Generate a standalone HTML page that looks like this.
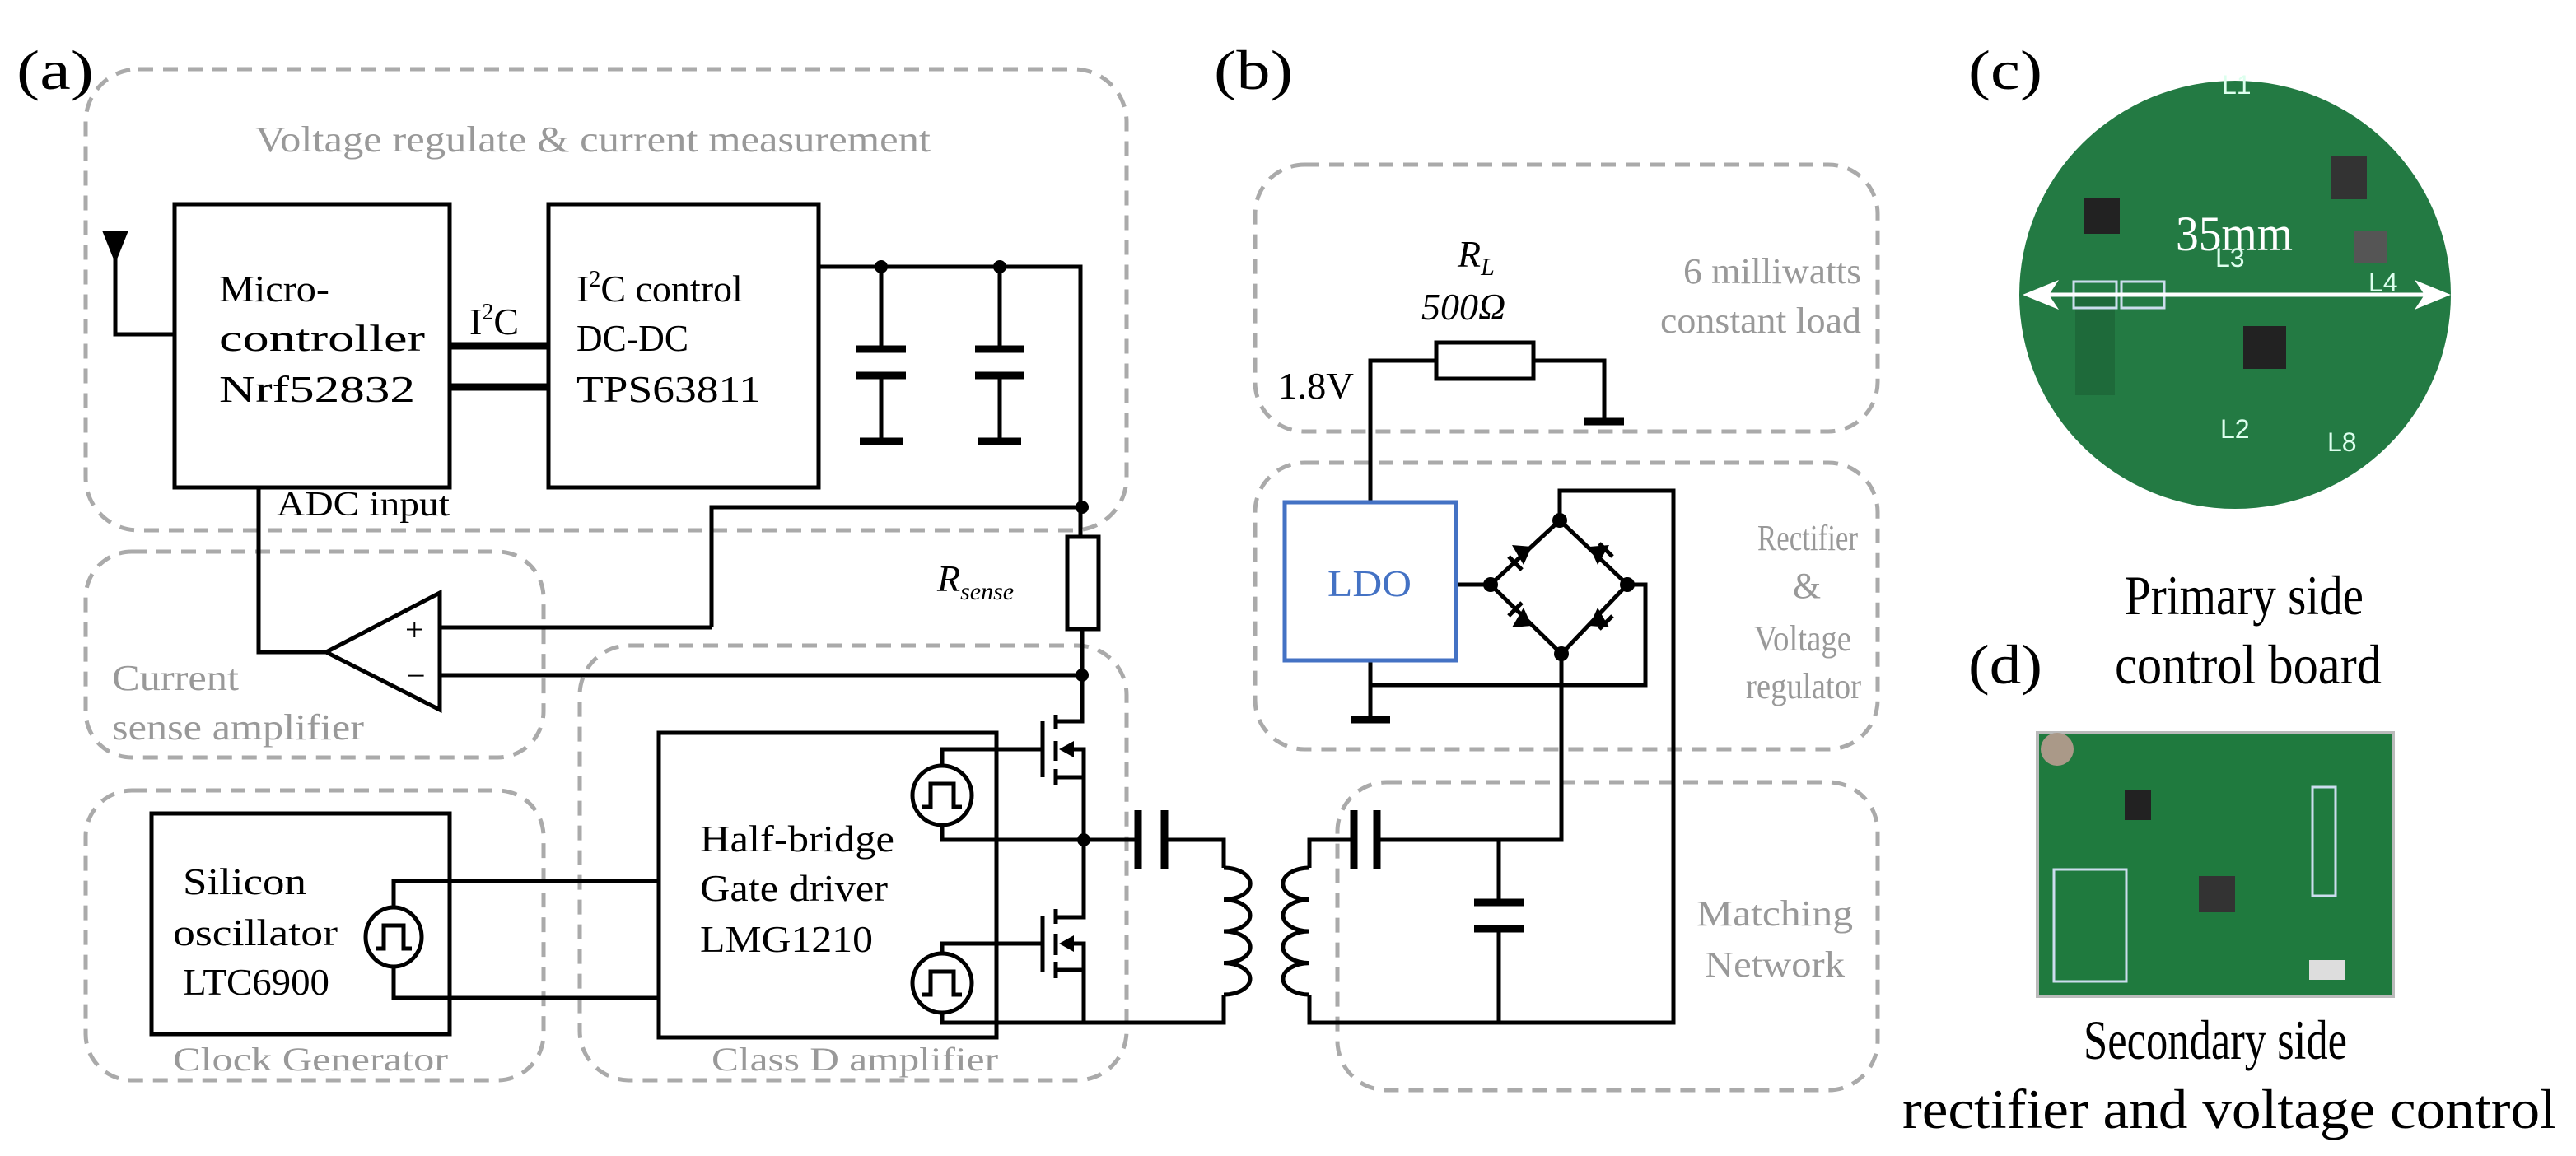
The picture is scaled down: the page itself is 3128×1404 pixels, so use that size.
<!DOCTYPE html>
<html><head><meta charset="utf-8"><style>
html,body{margin:0;padding:0;background:#fff;}
svg{display:block;}
svg text{font-family:"Liberation Serif","Times New Roman",Times,serif;}
</style></head><body>
<svg width="3128" height="1404" viewBox="0 0 1564 702" xmlns="http://www.w3.org/2000/svg" font-family="Liberation Serif, Times New Roman, serif">
<g fill="none" stroke="#aaa" stroke-width="2.5" stroke-dasharray="9 6">
<rect x="52" y="42" width="632" height="280" rx="32"/>
<rect x="52" y="335" width="278" height="125" rx="28"/>
<rect x="52" y="480" width="278" height="176" rx="28"/>
<rect x="352" y="392" width="332" height="264" rx="30"/>
<rect x="762" y="100" width="378" height="162" rx="30"/>
<rect x="762" y="281" width="378" height="174" rx="30"/>
<rect x="812" y="475" width="328" height="187" rx="30"/>
</g>
<g fill="#999" font-size="22">
<text x="155" y="92" textLength="410" lengthAdjust="spacingAndGlyphs">Voltage regulate &amp; current measurement</text>
<text x="68" y="419" textLength="77" lengthAdjust="spacingAndGlyphs">Current</text>
<text x="68" y="449" textLength="153" lengthAdjust="spacingAndGlyphs">sense amplifier</text>
<text x="105" y="650" font-size="20" textLength="167" lengthAdjust="spacingAndGlyphs">Clock Generator</text>
<text x="432" y="650" font-size="20" textLength="174" lengthAdjust="spacingAndGlyphs">Class D amplifier</text>
<text x="1022" y="172" textLength="108" lengthAdjust="spacingAndGlyphs">6 milliwatts</text>
<text x="1008" y="202" textLength="122" lengthAdjust="spacingAndGlyphs">constant load</text>
<text x="1067" y="334" textLength="61" lengthAdjust="spacingAndGlyphs">Rectifier</text>
<text x="1097" y="363" text-anchor="middle">&amp;</text>
<text x="1065" y="395" textLength="59" lengthAdjust="spacingAndGlyphs">Voltage</text>
<text x="1060" y="424" textLength="70" lengthAdjust="spacingAndGlyphs">regulator</text>
<text x="1030" y="562" textLength="95" lengthAdjust="spacingAndGlyphs">Matching</text>
<text x="1035" y="593" textLength="85" lengthAdjust="spacingAndGlyphs">Network</text>
</g>
<g fill="#000" font-size="34">
<text x="10" y="54" textLength="47" lengthAdjust="spacingAndGlyphs">(a)</text>
<text x="737" y="54" textLength="48" lengthAdjust="spacingAndGlyphs">(b)</text>
<text x="1195" y="54" textLength="45" lengthAdjust="spacingAndGlyphs">(c)</text>
<text x="1195" y="415" textLength="45" lengthAdjust="spacingAndGlyphs">(d)</text>
<text x="1290" y="373" textLength="145" lengthAdjust="spacingAndGlyphs">Primary side</text>
<text x="1284" y="415" textLength="162" lengthAdjust="spacingAndGlyphs">control board</text>
<text x="1265" y="643" textLength="160" lengthAdjust="spacingAndGlyphs">Secondary side</text>
<text x="1155" y="685" textLength="397" lengthAdjust="spacingAndGlyphs">rectifier and voltage control</text>
</g>
<g fill="none" stroke="#000" stroke-width="2.5">
<rect x="106" y="124" width="167" height="172"/>
<rect x="333" y="124" width="164" height="172"/>
<rect x="92" y="494" width="181" height="134"/>
<rect x="400" y="445" width="205" height="185"/>
<polyline points="70,155 70,203 106,203"/>
<polyline points="497,162 656,162 656,325"/>
<line x1="535" y1="162" x2="535" y2="212"/><line x1="535" y1="228" x2="535" y2="268"/>
<line x1="607" y1="162" x2="607" y2="212"/><line x1="607" y1="228" x2="607" y2="268"/>
<rect x="648" y="326" width="19" height="56"/>
<polyline points="657,382 657,438 641,438"/>
<polyline points="432,381 432,308 657,308"/>
<polyline points="267,381 432,381"/>
<polyline points="267,410 657,410"/>
<polygon points="198,396 267,360 267,431"/>
<polyline points="198,396 157,396 157,296"/>
<polyline points="239,551 239,535 400,535"/>
<polyline points="239,587 239,606 400,606"/>
<ellipse cx="239" cy="569" rx="17" ry="18"/>
<path d="M228 576 h5 v-14 h12 v14 h5"/>
<line x1="633" y1="438" x2="633" y2="472"/>
<line x1="641" y1="434" x2="641" y2="443"/><line x1="641" y1="450" x2="641" y2="462"/><line x1="641" y1="467" x2="641" y2="477"/>
<polyline points="641,472 658,472 658,455 648,455"/>
<line x1="658" y1="472" x2="658" y2="510"/>
<polyline points="633,455 572,455 572,465"/>
<circle cx="572" cy="483" r="18"/>
<path d="M560 490 h5 v-14 h14 v14 h5"/>
<polyline points="572,501 572,510 691,510"/>
<polyline points="658,510 658,557 641,557"/>
<line x1="633" y1="556" x2="633" y2="590"/>
<line x1="641" y1="552" x2="641" y2="561"/><line x1="641" y1="567" x2="641" y2="580"/><line x1="641" y1="584" x2="641" y2="594"/>
<polyline points="641,589 658,589 658,573 648,573"/>
<line x1="658" y1="589" x2="658" y2="621"/>
<polyline points="633,573 572,573 572,579"/>
<circle cx="572" cy="597" r="18"/>
<path d="M560 604 h5 v-14 h14 v14 h5"/>
<polyline points="572,615 572,621 743,621 743,604"/>
<polyline points="707,510 743,510 743,527"/>
<path d="M743 527 A16 9.6 0 1 1 743 546.3 A16 9.6 0 1 1 743 565.5 A16 9.6 0 1 1 743 584.8 A16 9.6 0 1 1 743 604"/>
<path d="M795 527 A16 9.6 0 1 0 795 546.3 A16 9.6 0 1 0 795 565.5 A16 9.6 0 1 0 795 584.8 A16 9.6 0 1 0 795 604"/>
<polyline points="795,527 795,510 822,510"/>
<polyline points="836,510 948,510 948,397"/>
<polyline points="795,604 795,621 1016,621 1016,298 947,298 947,316"/>
<line x1="910" y1="510" x2="910" y2="548"/><line x1="910" y1="564" x2="910" y2="621"/>
<polyline points="884,355 905,355"/>
<polygon points="905,355 947,316 988,355 948,397"/>
<polyline points="988,355 999,355 999,416 832,416"/>
<polyline points="832,401 832,437"/>
<polyline points="832,304 832,219 872,219"/>
<rect x="872" y="208" width="59" height="22"/>
<polyline points="931,219 974,219 974,256"/>
</g>
<g stroke="#000" stroke-width="4.5" fill="none">
<line x1="273" y1="210" x2="333" y2="210"/><line x1="273" y1="235" x2="333" y2="235"/>
<line x1="520" y1="212" x2="550" y2="212"/><line x1="520" y1="228" x2="550" y2="228"/><line x1="522" y1="268" x2="548" y2="268"/>
<line x1="592" y1="212" x2="622" y2="212"/><line x1="592" y1="228" x2="622" y2="228"/><line x1="594" y1="268" x2="620" y2="268"/>
<line x1="691" y1="492" x2="691" y2="528"/><line x1="707" y1="492" x2="707" y2="528"/>
<line x1="822" y1="492" x2="822" y2="528"/><line x1="836" y1="492" x2="836" y2="528"/>
<line x1="895" y1="548" x2="925" y2="548"/><line x1="895" y1="564" x2="925" y2="564"/>
<line x1="962" y1="256" x2="986" y2="256"/>
<line x1="820" y1="437" x2="844" y2="437"/>
</g>
<rect x="780" y="305" width="104" height="96" fill="none" stroke="#4472c4" stroke-width="2.5"/>
<text x="806" y="362" font-size="23" fill="#4472c4" textLength="51" lengthAdjust="spacingAndGlyphs">LDO</text>
<g fill="#000">
<polygon points="62,140 78,140 70,160"/>
<circle cx="535" cy="162" r="4"/><circle cx="607" cy="162" r="4"/>
<circle cx="657" cy="308" r="4"/><circle cx="657" cy="410" r="4"/><circle cx="658" cy="510" r="4"/>
<circle cx="905" cy="355" r="4.5"/><circle cx="947" cy="316" r="4.5"/><circle cx="988" cy="355" r="4.5"/><circle cx="948" cy="397" r="4.5"/>
<polygon points="643,455 652,450 652,460"/><polygon points="643,573 652,568 652,578"/>
<polygon points="930,332 918,331 925,343"/><polygon points="965,332 977,331 970,343"/>
<polygon points="930,380 918,381 925,369"/><polygon points="965,380 977,381 970,369"/>
</g>
<g stroke="#000" stroke-width="2.5">
<line x1="916" y1="338" x2="924" y2="346"/><line x1="971" y1="330" x2="979" y2="338"/>
<line x1="916" y1="374" x2="924" y2="366"/><line x1="971" y1="382" x2="979" y2="374"/>
</g>
<g fill="#000" font-size="23">
<text x="133" y="183" textLength="67" lengthAdjust="spacingAndGlyphs">Micro-</text>
<text x="133" y="213" textLength="125" lengthAdjust="spacingAndGlyphs">controller</text>
<text x="133" y="244" textLength="119" lengthAdjust="spacingAndGlyphs">Nrf52832</text>
<text x="350" y="183">I<tspan font-size="14" dy="-9">2</tspan><tspan dy="9">C control</tspan></text>
<text x="350" y="213" textLength="68" lengthAdjust="spacingAndGlyphs">DC-DC</text>
<text x="350" y="244" textLength="112" lengthAdjust="spacingAndGlyphs">TPS63811</text>
<text x="285" y="203">I<tspan font-size="14" dy="-9">2</tspan><tspan dy="9">C</tspan></text>
<text x="168" y="313" font-size="21" textLength="105" lengthAdjust="spacingAndGlyphs">ADC input</text>
<text x="569" y="359" font-style="italic">R<tspan font-size="15" dy="5">sense</tspan></text>
<text x="246" y="389" font-size="20">+</text>
<text x="247" y="417" font-size="20">−</text>
<text x="111" y="543" textLength="75" lengthAdjust="spacingAndGlyphs">Silicon</text>
<text x="105" y="574" textLength="100" lengthAdjust="spacingAndGlyphs">oscillator</text>
<text x="111" y="604" textLength="89" lengthAdjust="spacingAndGlyphs">LTC6900</text>
<text x="425" y="517" textLength="118" lengthAdjust="spacingAndGlyphs">Half-bridge</text>
<text x="425" y="547" textLength="114" lengthAdjust="spacingAndGlyphs">Gate driver</text>
<text x="425" y="578" textLength="105" lengthAdjust="spacingAndGlyphs">LMG1210</text>
<text x="776" y="242" textLength="46" lengthAdjust="spacingAndGlyphs">1.8V</text>
<text x="885" y="162" font-style="italic">R<tspan font-size="15" dy="5">L</tspan></text>
<text x="863" y="194" font-style="italic">500Ω</text>
</g>
<ellipse cx="1357" cy="179" rx="131" ry="130" fill="#237a43"/>
<rect x="1265" y="120" width="22" height="22" fill="#222"/>
<rect x="1362" y="198" width="26" height="26" fill="#222"/>
<rect x="1415" y="95" width="22" height="26" fill="#333"/>
<rect x="1429" y="140" width="20" height="20" fill="#555"/>
<rect x="1260" y="180" width="24" height="60" fill="#1e6a3a"/>
<rect x="1259" y="171" width="26" height="16" fill="none" stroke="#cde" stroke-width="1.5"/>
<rect x="1288" y="171" width="26" height="16" fill="none" stroke="#cde" stroke-width="1.5"/>
<text x="1321" y="152" fill="#fff" font-size="30" textLength="71" lengthAdjust="spacingAndGlyphs">35mm</text>
<line x1="1232" y1="179" x2="1484" y2="179" stroke="#fff" stroke-width="2.5"/>
<polygon points="1228,179 1250,170 1244,179 1250,188" fill="#fff"/>
<polygon points="1488,179 1466,170 1472,179 1466,188" fill="#fff"/>
<g fill="#dfe" font-size="16"><text x="1345" y="162" style="font-family:'Liberation Sans',sans-serif">L3</text><text x="1438" y="177" style="font-family:'Liberation Sans',sans-serif">L4</text><text x="1348" y="266" style="font-family:'Liberation Sans',sans-serif">L2</text><text x="1413" y="274" style="font-family:'Liberation Sans',sans-serif">L8</text><text x="1349" y="57" style="font-family:'Liberation Sans',sans-serif">L1</text></g>
<rect x="1237" y="445" width="216" height="160" fill="#1f7a3e"/>
<rect x="1237" y="445" width="216" height="160" fill="none" stroke="#bbb" stroke-width="2"/>
<rect x="1247" y="528" width="44" height="68" fill="none" stroke="#cde" stroke-width="1.5"/>
<rect x="1335" y="532" width="22" height="22" fill="#333"/>
<rect x="1290" y="480" width="16" height="18" fill="#222"/>
<rect x="1404" y="478" width="14" height="66" fill="none" stroke="#cde" stroke-width="1.5"/>
<rect x="1402" y="583" width="22" height="12" fill="#ddd"/>
<circle cx="1249" cy="455" r="10" fill="#a98"/>
</svg>
</body></html>
